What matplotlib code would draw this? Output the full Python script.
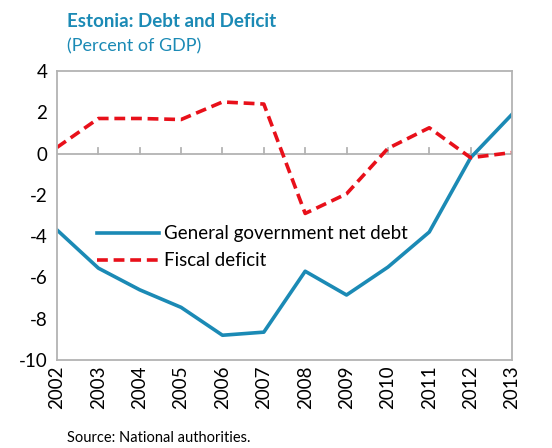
import matplotlib.pyplot as plt
import numpy as np

plt.rcParams['font.family'] = 'Lato'
plt.rcParams['font.size'] = 13
plt.rcParams['axes.unicode_minus'] = False

years = [2002, 2003, 2004, 2005, 2006, 2007, 2008, 2009, 2010, 2011, 2012, 2013]
net_debt = [-3.7, -5.55, -6.6, -7.45, -8.8, -8.65, -5.7, -6.85, -5.5, -3.8, -0.2, 1.9]
fiscal_deficit = [0.3, 1.7, 1.7, 1.65, 2.5, 2.4, -2.9, -1.95, 0.25, 1.25, -0.2, 0.05]

blue = '#1b8ab5'
red = '#e8101a'
grey = '#b3b3b3'

fig = plt.figure(figsize=(5.52, 4.48), dpi=100)
ax = fig.add_axes([0.1033, 0.1964, 0.8242, 0.6451])

x = np.arange(len(years))
ax.plot(x, net_debt, color=blue, lw=2.6, label='General government net debt')
ax.plot(x, fiscal_deficit, color=red, lw=2.6, dashes=(3, 1.6), label='Fiscal deficit')

ax.set_xlim(0, len(years) - 1)
ax.set_ylim(-10, 4)
ax.set_yticks(range(-10, 5, 2))
ax.set_xticks(x)
ax.set_xticklabels([str(y) for y in years], rotation=90)
ax.tick_params(axis='both', length=0, labelsize=13.5, pad=7)
ax.tick_params(axis='x', pad=4)

for s in ax.spines.values():
    s.set_color(grey)
    s.set_linewidth(1.3)

# zero line with small ticks at each year
ax.axhline(0, color=grey, lw=1.3, zorder=1)
for xi in x[1:-1]:
    ax.plot([xi, xi], [0, 0.25], color=grey, lw=1.3, zorder=1)

ax.legend(loc='upper left', bbox_to_anchor=(0.05, 0.525), frameon=False,
          fontsize=13.5, handlelength=3.3, handletextpad=0.3, labelspacing=0.55)

fig.text(0.121, 0.952, 'Estonia: Debt and Deficit', color=blue, fontsize=13.5,
         fontweight='bold', va='center')
fig.text(0.121, 0.897, '(Percent of GDP)', color=blue, fontsize=13, va='center')
fig.text(0.121, 0.022, 'Source: National authorities.', fontsize=10.5, va='center')

plt.savefig('out.png', dpi=100)
